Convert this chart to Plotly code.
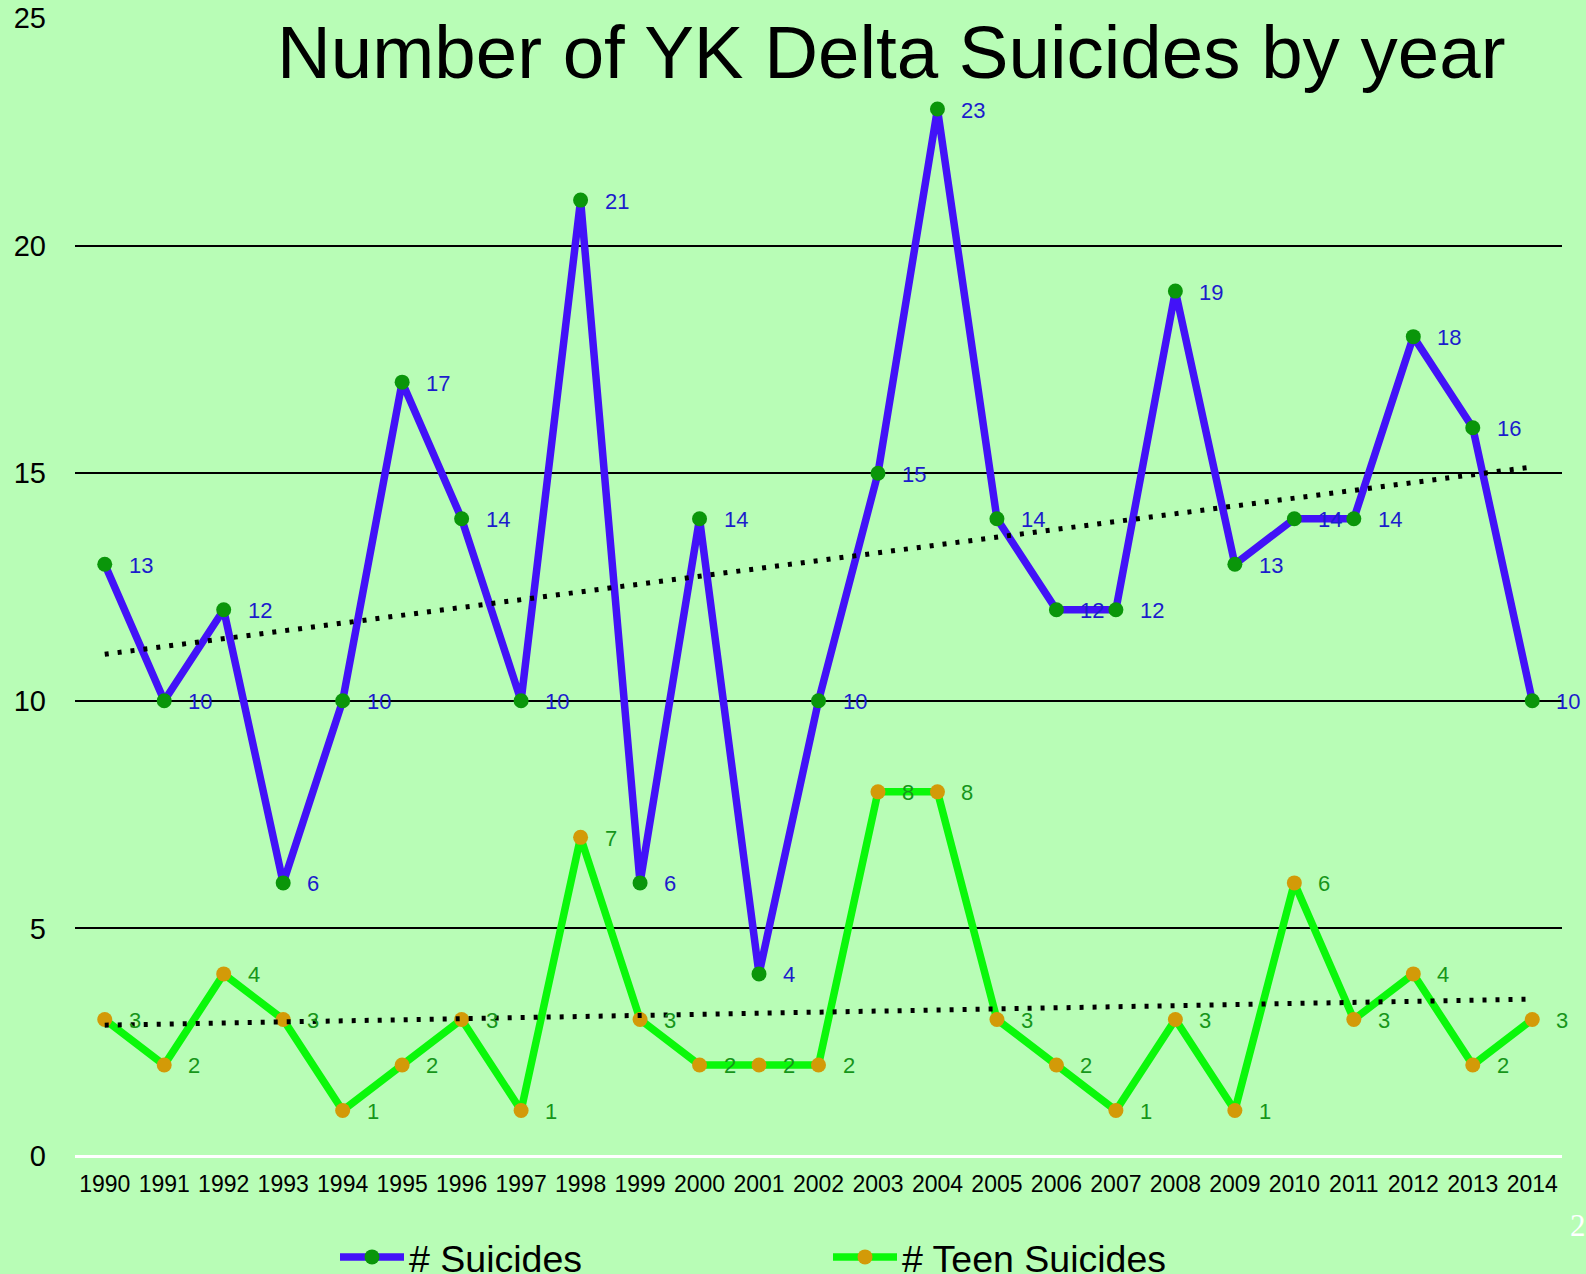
import numpy as np
import plotly.graph_objects as go

years = list(range(1990, 2015))
year_labels = [str(y) for y in years]
suicides = [13, 10, 12, 6, 10, 17, 14, 10, 21, 6, 14, 4, 10, 15, 23, 14, 12, 12, 19, 13, 14, 14, 18, 16, 10]
teen_suicides = [3, 2, 4, 3, 1, 2, 3, 1, 7, 3, 2, 2, 2, 8, 8, 3, 2, 1, 3, 1, 6, 3, 4, 2, 3]
y_ticks = [0, 5, 10, 15, 20, 25]

BG = "#b8fdb6"
BLUE_LINE = "#4212f8"
GREEN_MARK = "#0a960a"
TEEN_LINE = "#0af80a"
TEEN_MARK = "#d39a08"
BLUE_TEXT = "#1c1ccc"
GREEN_TEXT = "#16961a"
FONT = "Liberation Sans, Arial, sans-serif"

tr_s = np.polyval(np.polyfit(years, suicides, 1), years)
tr_t = np.polyval(np.polyfit(years, teen_suicides, 1), years)

fig = go.Figure()
fig.add_trace(go.Scatter(x=years, y=suicides, mode="lines+markers", name="# Suicides",
                         line=dict(color=BLUE_LINE, width=7.5),
                         marker=dict(color=GREEN_MARK, size=15)))
fig.add_trace(go.Scatter(x=years, y=teen_suicides, mode="lines+markers", name="# Teen Suicides",
                         line=dict(color=TEEN_LINE, width=7.5),
                         marker=dict(color=TEEN_MARK, size=15)))
fig.add_trace(go.Scatter(x=years, y=tr_s, mode="lines", showlegend=False, hoverinfo="skip",
                         line=dict(color="black", width=5, dash="4px,9px")))
fig.add_trace(go.Scatter(x=years, y=tr_t, mode="lines", showlegend=False, hoverinfo="skip",
                         line=dict(color="black", width=5, dash="4px,9px")))

W, H = 1586, 1274
L, R, T, B = 75, 24, 18, 118
pw, ph = W - L - R, H - T - B

def px_x(x):
    return (x - L) / pw

def px_y(y):
    return (H - B - y) / ph

ann = []
for yr, v in zip(years, suicides):
    ann.append(dict(x=yr, y=v, xref="x", yref="y", text=str(v), showarrow=False,
                    xanchor="left", yanchor="middle", xshift=22, yshift=-1,
                    font=dict(family=FONT, size=22, color=BLUE_TEXT)))
for yr, v in zip(years, teen_suicides):
    ann.append(dict(x=yr, y=v, xref="x", yref="y", text=str(v), showarrow=False,
                    xanchor="left", yanchor="middle", xshift=22, yshift=-1,
                    font=dict(family=FONT, size=22, color=GREEN_TEXT)))
ann.append(dict(x=px_x(891), y=px_y(53), xref="paper", yref="paper",
                text="Number of YK Delta Suicides by year",
                showarrow=False, xanchor="center", yanchor="middle",
                font=dict(family=FONT, size=74.5, color="black")))
ann.append(dict(x=px_x(1568), y=px_y(1225), xref="paper", yref="paper", text="2", showarrow=False,
                xanchor="left", yanchor="middle",
                font=dict(family="Liberation Serif, serif", size=31, color="white")))

fig.update_layout(
    width=W, height=H,
    margin=dict(l=L, r=R, t=T, b=B, autoexpand=False),
    paper_bgcolor=BG, plot_bgcolor=BG,
    font=dict(family=FONT, color="black"),
    showlegend=True,
    legend=dict(orientation="h", x=px_x(335), y=px_y(1226), xanchor="left", yanchor="top",
                font=dict(family=FONT, size=37.5, color="black"), entrywidth=414, entrywidthmode="pixels",
                itemwidth=64, bgcolor="rgba(0,0,0,0)", tracegroupgap=0),
    annotations=ann,
    xaxis=dict(range=[1989.5, 2014.5], tickvals=years, ticktext=year_labels,
               showgrid=False, zeroline=False, showline=False,
               tickfont=dict(family=FONT, size=23, color="black"), ticks="", ticklabelstandoff=12),
    yaxis=dict(range=[0, 25], tickvals=y_ticks, showgrid=True, gridcolor="black", gridwidth=2,
               zeroline=True, zerolinecolor="white", zerolinewidth=3, showline=False,
               tickfont=dict(family=FONT, size=29, color="black"), ticks="", ticklabelstandoff=28),
)

fig.write_html("out.html", config={"displayModeBar": False},
               post_script="document.body.style.margin='0';document.body.style.overflow='hidden';")
